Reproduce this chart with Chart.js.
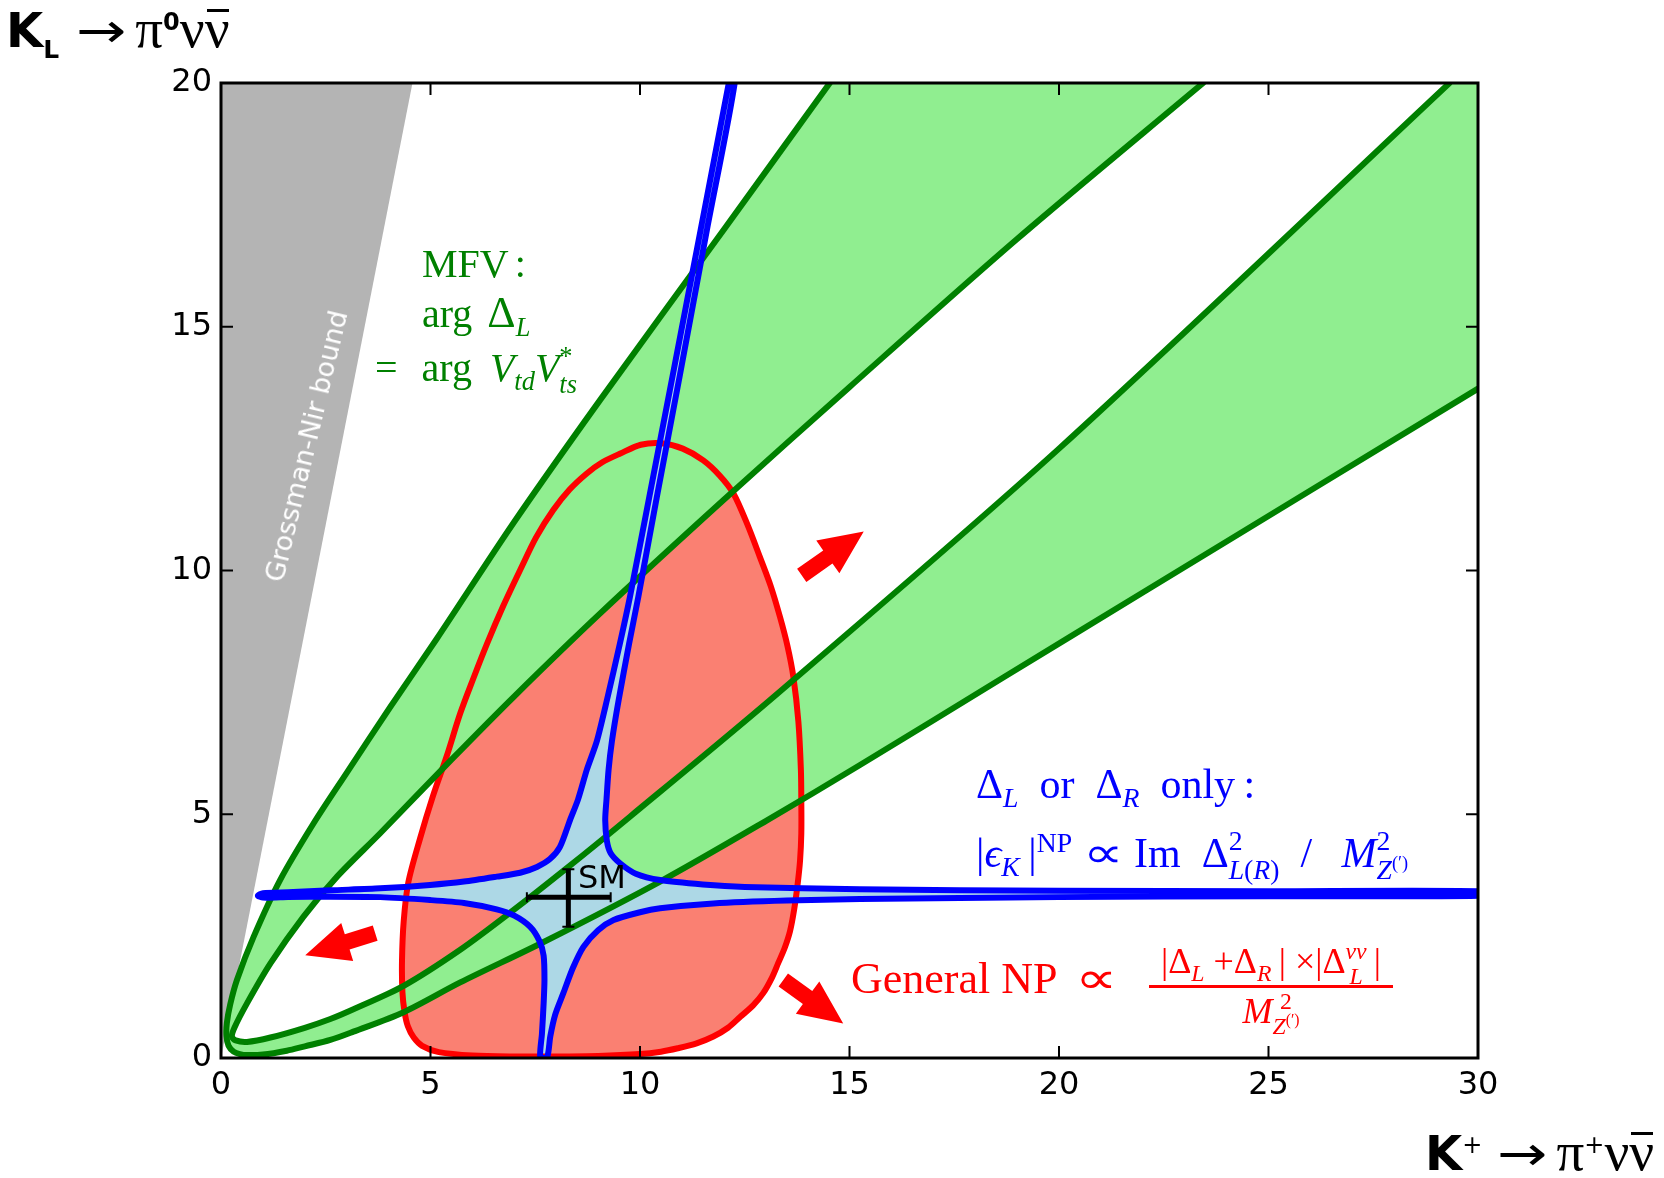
<!DOCTYPE html>
<html>
<head>
<meta charset="utf-8">
<title>K_L vs K+ rare decays</title>
<script src="https://cdn.jsdelivr.net/npm/chart.js@4.4.1/dist/chart.umd.min.js"></script>
<style>
  html, body { margin: 0; padding: 0; background: #fff; }
  #wrap { position: relative; width: 1664px; height: 1178px; overflow: hidden; }
  #chart { position: absolute; left: 0; top: 0; }
  .t { position: absolute; white-space: nowrap; line-height: 1; font-family: "Liberation Serif", "DejaVu Serif", serif; }
  .t sub, .t sup { font-size: 0.66em; line-height: 0; }
  .t .ss { display: inline-block; font-size: 0.66em; line-height: 1.05; vertical-align: -0.45em; }
  .lh0 { line-height: 0; }
  .sb { font-family: "DejaVu Sans", sans-serif; font-weight: bold; }
  .sn { font-family: "DejaVu Sans", sans-serif; }
  .arr { display: inline-block; line-height: 0; font-family: "DejaVu Sans", sans-serif; font-weight: normal; transform: scaleX(1.25); }
  .prop { display: inline-block; line-height: 0; font-family: "DejaVu Sans", sans-serif; font-weight: 200; transform: scaleX(1.35); margin: 0 0.38em; }
  .bar { position: relative; }
  .bar::before { content: ""; position: absolute; left: 8%; right: 4%; top: 0.2em; border-top: 3px solid currentColor; }
  .green { color: #008000; font-size: 40px; }
  .blue { color: #0000ff; font-size: 42px; }
  .red { color: #ff0000; }
</style>
</head>
<body>
<div id="wrap">
  <canvas id="chart" width="1664" height="1178"></canvas>

  <div class="t" style="left:6px;top:7px;font-size:48px;"><span class="sb lh0">K<sub style="font-size:0.52em">L</sub></span><span class="arr" style="margin-left:22px;">→</span><span class="lh0" style="margin-left:14px;font-size:55px;">π</span><sup class="sb" style="font-size:0.5em">0</sup><span class="lh0" style="font-size:55px;">ν<span class="bar">ν</span></span></div>
  <div class="t" style="left:1425px;top:1130px;font-size:48px;"><span class="sb lh0">K</span><sup class="sn" style="font-size:0.5em">+</sup><span class="arr" style="margin-left:20px;">→</span><span class="lh0" style="margin-left:14px;font-size:55px;">π</span><sup class="sn" style="font-size:0.5em">+</sup><span class="lh0" style="font-size:55px;">ν<span class="bar">ν</span></span></div>

  <div class="t green" style="left:422px;top:244px;">MFV<span style="margin-left:6px">:</span></div>
  <div class="t green" style="left:422px;top:291px;">arg<span style="margin-left:15px;font-size:44px;">Δ</span><sub><i>L</i></sub></div>
  <div class="t green" style="left:375px;top:343px;">=<span style="margin-left:24px">arg</span><i style="margin-left:18px">V</i><sub><i>td</i></sub><i>V</i><span class="ss">*<br><i>ts</i></span></div>

  <div class="t" style="left:306px;top:446px;font-family:'DejaVu Sans';font-size:27px;color:#fff;transform:translate(-50%,-50%) rotate(-76.5deg);">Grossman-Nir bound</div>

  <div class="t blue" style="left:976px;top:763px;">Δ<sub><i>L</i></sub>&nbsp; or &nbsp;Δ<sub><i>R</i></sub>&nbsp; only&thinsp;:</div>
  <div class="t blue" style="left:976px;top:826px;">|<i>ϵ</i><sub><i>K</i></sub>&thinsp;|<sup>NP</sup><span class="prop">∝</span>Im&nbsp; Δ<span class="ss">2<br><i>L</i>(<i>R</i>)</span>&nbsp; / &nbsp;&thinsp;<i>M</i><span class="ss">2<br><i>Z</i><sup>(′)</sup></span></div>

  <div class="t red" style="left:851px;top:957px;font-size:44px;">General NP<span class="prop" style="margin-left:0.5em">∝</span></div>
  <div class="t red" style="left:1149px;top:939px;width:244px;text-align:center;font-size:36px;">|Δ<sub><i>L</i></sub>&nbsp;+Δ<sub><i>R</i></sub>&thinsp;|&nbsp;×|Δ<span class="ss"><i>νν</i><br><i>L</i></span>&thinsp;|</div>
  <div style="position:absolute;left:1149px;top:985px;width:244px;height:3px;background:#ff0000;"></div>
  <div class="t red" style="left:1149px;top:989px;width:244px;text-align:center;font-size:36px;"><i>M</i><span class="ss">2<br><i>Z</i><sup>(′)</sup></span></div>

  <div class="t" style="left:578px;top:861px;font-family:'DejaVu Sans';font-size:32px;">SM</div>
</div>

<script>
// axis ticks
const xTicks = [0, 5, 10, 15, 20, 25, 30];
const yTicks = [0, 5, 10, 15, 20];

// Grossman-Nir bound (grey wedge)
const gnX = [0, 4.57, 0];
const gnY = [0, 20, 20];

// MFV band, outer curve: upper branch from the top edge down to the tip, then lower branch to the right edge
const outerX = [14.53, 11.99, 9.05, 7.0, 5.15, 4.04, 3.0, 2.2, 1.41, 0.78, 0.38, 0.22, 0.14, 0.13, 0.18, 0.30, 0.45, 0.62, 1.0, 1.57, 2.0, 2.61, 3.16, 4.36, 5.71, 7.70, 10.48, 13.0, 15.25, 18.68, 22.0, 30.0];
const outerY = [20.0, 16.98, 13.5, 11.0, 8.6, 7.2, 5.85, 4.8, 3.65, 2.49, 1.60, 1.10, 0.72, 0.45, 0.25, 0.13, 0.08, 0.06, 0.07, 0.15, 0.24, 0.37, 0.54, 0.94, 1.55, 2.38, 3.62, 4.86, 6.01, 7.81, 9.55, 13.73];

// MFV band, inner curve: upper branch from the top edge down to the tip, then lower branch back to the top edge
const innerX = [23.44, 19.0, 15.01, 12.0, 9.05, 7.0, 5.5, 3.80, 2.77, 1.97, 1.18, 0.62, 0.32, 0.26, 0.35, 0.62, 1.18, 2.0, 2.61, 3.16, 4.36, 5.71, 6.90, 8.29, 9.76, 13.18, 20.0, 29.32];
const innerY = [20.0, 16.8, 13.77, 11.45, 9.12, 7.42, 6.12, 4.61, 3.72, 2.90, 1.94, 1.12, 0.62, 0.44, 0.36, 0.33, 0.42, 0.62, 0.80, 1.0, 1.48, 2.22, 2.98, 3.92, 4.95, 7.40, 12.5, 20.0];

// general NP region (closed)
const npX = [8.0, 9.0, 10.0, 10.5, 10.9, 11.35, 11.75, 12.1, 12.4, 12.7, 12.94, 13.15, 13.3, 13.45, 13.58, 13.68, 13.76, 13.82, 13.85, 13.85, 13.84, 13.78, 13.66, 13.52, 13.34, 13.12, 12.86, 12.56, 12.23, 11.9, 11.51, 11.02, 10.52, 10.02, 9.53, 9.1, 8.73, 8.32, 7.93, 7.52, 7.14, 6.74, 6.35, 6.02, 5.71, 5.39, 5.05, 4.75, 4.47, 4.36, 4.32, 4.33, 4.38, 4.46, 4.6, 4.8, 5.2, 6.0, 7.0, 8.0];
const npY = [0.03, 0.04, 0.08, 0.13, 0.20, 0.30, 0.44, 0.62, 0.85, 1.08, 1.33, 1.65, 1.95, 2.25, 2.60, 3.05, 3.55, 4.05, 4.61, 5.25, 5.91, 6.9, 7.82, 8.45, 9.05, 9.68, 10.28, 10.95, 11.58, 11.95, 12.26, 12.50, 12.61, 12.58, 12.40, 12.22, 11.99, 11.66, 11.24, 10.68, 10.01, 9.28, 8.50, 7.78, 7.07, 6.20, 5.35, 4.50, 3.60, 2.80, 2.00, 1.35, 0.95, 0.65, 0.42, 0.25, 0.12, 0.05, 0.03, 0.03];

// Delta_L or Delta_R only (closed, four arms around the SM point)
const lrX = [12.12, 11.45, 10.78, 10.22, 9.76, 9.52, 9.21, 8.97, 8.73, 8.52, 8.33, 8.09, 7.85, 7.54, 7.14, 6.58, 5.8, 4.99, 3.80, 2.61, 1.6, 1.0, 0.88,
             1.0, 1.6, 2.61, 3.80, 4.99, 5.8, 6.58, 7.0, 7.38, 7.6, 7.70, 7.72, 7.70, 7.66, 7.62,
             7.78, 7.86, 7.98, 8.17, 8.4, 8.65, 9.0, 9.37, 10.0, 10.48, 11.75, 13.5, 15.25, 20.0, 25.0, 30.0,
             30.0, 25.0, 20.0, 15.25, 12.5, 11.5, 10.48, 9.9, 9.53, 9.3, 9.21, 9.17, 9.2, 9.25, 9.33, 9.49, 9.74, 9.96, 10.4, 10.95, 11.6, 12.26];
const lrY = [20.0, 17.0, 14.0, 11.5, 9.46, 8.5, 7.34, 6.5, 5.91, 5.3, 4.88, 4.33, 4.08, 3.92, 3.80, 3.72, 3.62, 3.55, 3.48, 3.44, 3.40, 3.38, 3.33,
             3.29, 3.30, 3.31, 3.30, 3.24, 3.18, 3.05, 2.92, 2.69, 2.40, 2.10, 1.60, 1.12, 0.50, 0.0,
             0.0, 0.45, 0.90, 1.33, 1.85, 2.28, 2.62, 2.83, 2.99, 3.07, 3.17, 3.23, 3.26, 3.30, 3.32, 3.33,
             3.42, 3.42, 3.43, 3.46, 3.51, 3.56, 3.65, 3.78, 3.99, 4.20, 4.45, 4.88, 5.30, 5.91, 6.50, 7.34, 8.50, 9.46, 11.5, 14.0, 17.0, 20.0];

// SM point with error bars
const smX = [8.29];
const smY = [3.30];
const smXLo = [7.30];
const smXHi = [9.30];
const smYLo = [2.69];
const smYHi = [3.87];

// red arrows: tail -> tip
const arrowX0 = [13.86, 3.68, 13.42];
const arrowY0 = [9.90, 2.56, 1.60];
const arrowX1 = [15.34, 2.01, 14.85];
const arrowY1 = [10.80, 2.11, 0.71];

const pts = (xs, ys) => xs.map((x, i) => ({ x: x, y: ys[i] }));

// green band = outer curve, right edge corner, inner curve walked backwards
const greenFill = pts(outerX, outerY).concat([{ x: 30, y: 20 }], pts(innerX, innerY).reverse());

function fillSet(data, color, order, tension) {
  return { data: data, fill: 'shape', backgroundColor: color, borderColor: 'transparent', borderWidth: 0, pointRadius: 0, tension: tension || 0, order: order };
}
function lineSet(data, color, order, tension) {
  return { data: data, fill: false, borderColor: color, borderWidth: 6, borderJoinStyle: 'round', borderCapStyle: 'round', pointRadius: 0, tension: tension || 0, order: order };
}

function drawArrow(ctx, x0, y0, x1, y1) {
  const dx = x1 - x0, dy = y1 - y0, len = Math.hypot(dx, dy);
  const ux = dx / len, uy = dy / len, nx = -uy, ny = ux;
  const w = 8, hw = 20, hl = Math.min(44, len * 0.65);
  const bx = x1 - ux * hl, by = y1 - uy * hl;
  ctx.beginPath();
  ctx.moveTo(x0 + nx * w, y0 + ny * w);
  ctx.lineTo(bx + nx * w, by + ny * w);
  ctx.lineTo(bx + nx * hw, by + ny * hw);
  ctx.lineTo(x1, y1);
  ctx.lineTo(bx - nx * hw, by - ny * hw);
  ctx.lineTo(bx - nx * w, by - ny * w);
  ctx.lineTo(x0 - nx * w, y0 - ny * w);
  ctx.closePath();
  ctx.fill();
}

const overlay = {
  id: 'overlay',
  afterDatasetsDraw(chart) {
    const { ctx, chartArea: a, scales: { x, y } } = chart;
    ctx.save();

    // arrows
    ctx.fillStyle = '#ff0000';
    for (let i = 0; i < arrowX0.length; i++) {
      drawArrow(ctx, x.getPixelForValue(arrowX0[i]), y.getPixelForValue(arrowY0[i]),
                     x.getPixelForValue(arrowX1[i]), y.getPixelForValue(arrowY1[i]));
    }

    // SM point
    ctx.strokeStyle = '#000';
    for (let i = 0; i < smX.length; i++) {
      const cx = x.getPixelForValue(smX[i]), cy = y.getPixelForValue(smY[i]);
      const l = x.getPixelForValue(smXLo[i]), r = x.getPixelForValue(smXHi[i]);
      const b = y.getPixelForValue(smYLo[i]), t = y.getPixelForValue(smYHi[i]);
      ctx.lineWidth = 5;
      ctx.beginPath();
      ctx.moveTo(l, cy); ctx.lineTo(r, cy);
      ctx.moveTo(cx, b); ctx.lineTo(cx, t);
      ctx.stroke();
      ctx.lineWidth = 2;
      ctx.beginPath();
      ctx.moveTo(l, cy - 5); ctx.lineTo(l, cy + 5);
      ctx.moveTo(r, cy - 5); ctx.lineTo(r, cy + 5);
      ctx.moveTo(cx - 6, b); ctx.lineTo(cx + 6, b);
      ctx.moveTo(cx - 6, t); ctx.lineTo(cx + 6, t);
      ctx.stroke();
    }

    // frame and inward ticks on all four sides
    ctx.lineWidth = 3;
    ctx.strokeRect(a.left, a.top, a.right - a.left, a.bottom - a.top);
    ctx.lineWidth = 2;
    ctx.beginPath();
    x.ticks.forEach(t => {
      const px = x.getPixelForValue(t.value);
      ctx.moveTo(px, a.bottom); ctx.lineTo(px, a.bottom - 12);
      ctx.moveTo(px, a.top); ctx.lineTo(px, a.top + 12);
    });
    y.ticks.forEach(t => {
      const py = y.getPixelForValue(t.value);
      ctx.moveTo(a.left, py); ctx.lineTo(a.left + 12, py);
      ctx.moveTo(a.right, py); ctx.lineTo(a.right - 12, py);
    });
    ctx.stroke();
    ctx.restore();
  }
};

const tickFont = { family: 'DejaVu Sans', size: 32 };

new Chart(document.getElementById('chart'), {
  type: 'line',
  data: {
    datasets: [
      fillSet(pts(gnX, gnY), '#b4b4b4', 10),
      fillSet(pts(npX, npY), '#fa8072', 9, 0.3),
      fillSet(greenFill, '#90ee90', 8),
      fillSet(pts(lrX, lrY), '#add8e6', 7, 0.25),
      lineSet(pts(npX, npY), '#ff0000', 6, 0.3),
      lineSet(pts(outerX, outerY), '#008000', 5, 0.3),
      lineSet(pts(innerX, innerY), '#008000', 5, 0.3),
      lineSet(pts(lrX, lrY).concat([{ x: lrX[0], y: lrY[0] }]), '#0000ff', 4, 0.25)
    ]
  },
  options: {
    responsive: false,
    animation: false,
    events: [],
    layout: { padding: { left: 0, top: 83, right: 186, bottom: 0 } },
    plugins: { legend: { display: false }, tooltip: { enabled: false } },
    scales: {
      x: {
        type: 'linear', min: 0, max: 30,
        afterBuildTicks: s => { s.ticks = xTicks.map(v => ({ value: v })); },
        afterFit: s => { s.height = 120; },
        ticks: { font: tickFont, color: '#000', padding: 8, maxRotation: 0, autoSkip: false },
        grid: { display: false, drawTicks: false },
        border: { display: false }
      },
      y: {
        type: 'linear', min: 0, max: 20,
        afterBuildTicks: s => { s.ticks = yTicks.map(v => ({ value: v })); },
        afterFit: s => { s.width = 221; },
        ticks: { font: tickFont, color: '#000', padding: 9, autoSkip: false },
        grid: { display: false, drawTicks: false },
        border: { display: false }
      }
    }
  },
  plugins: [overlay]
});
</script>
</body>
</html>
